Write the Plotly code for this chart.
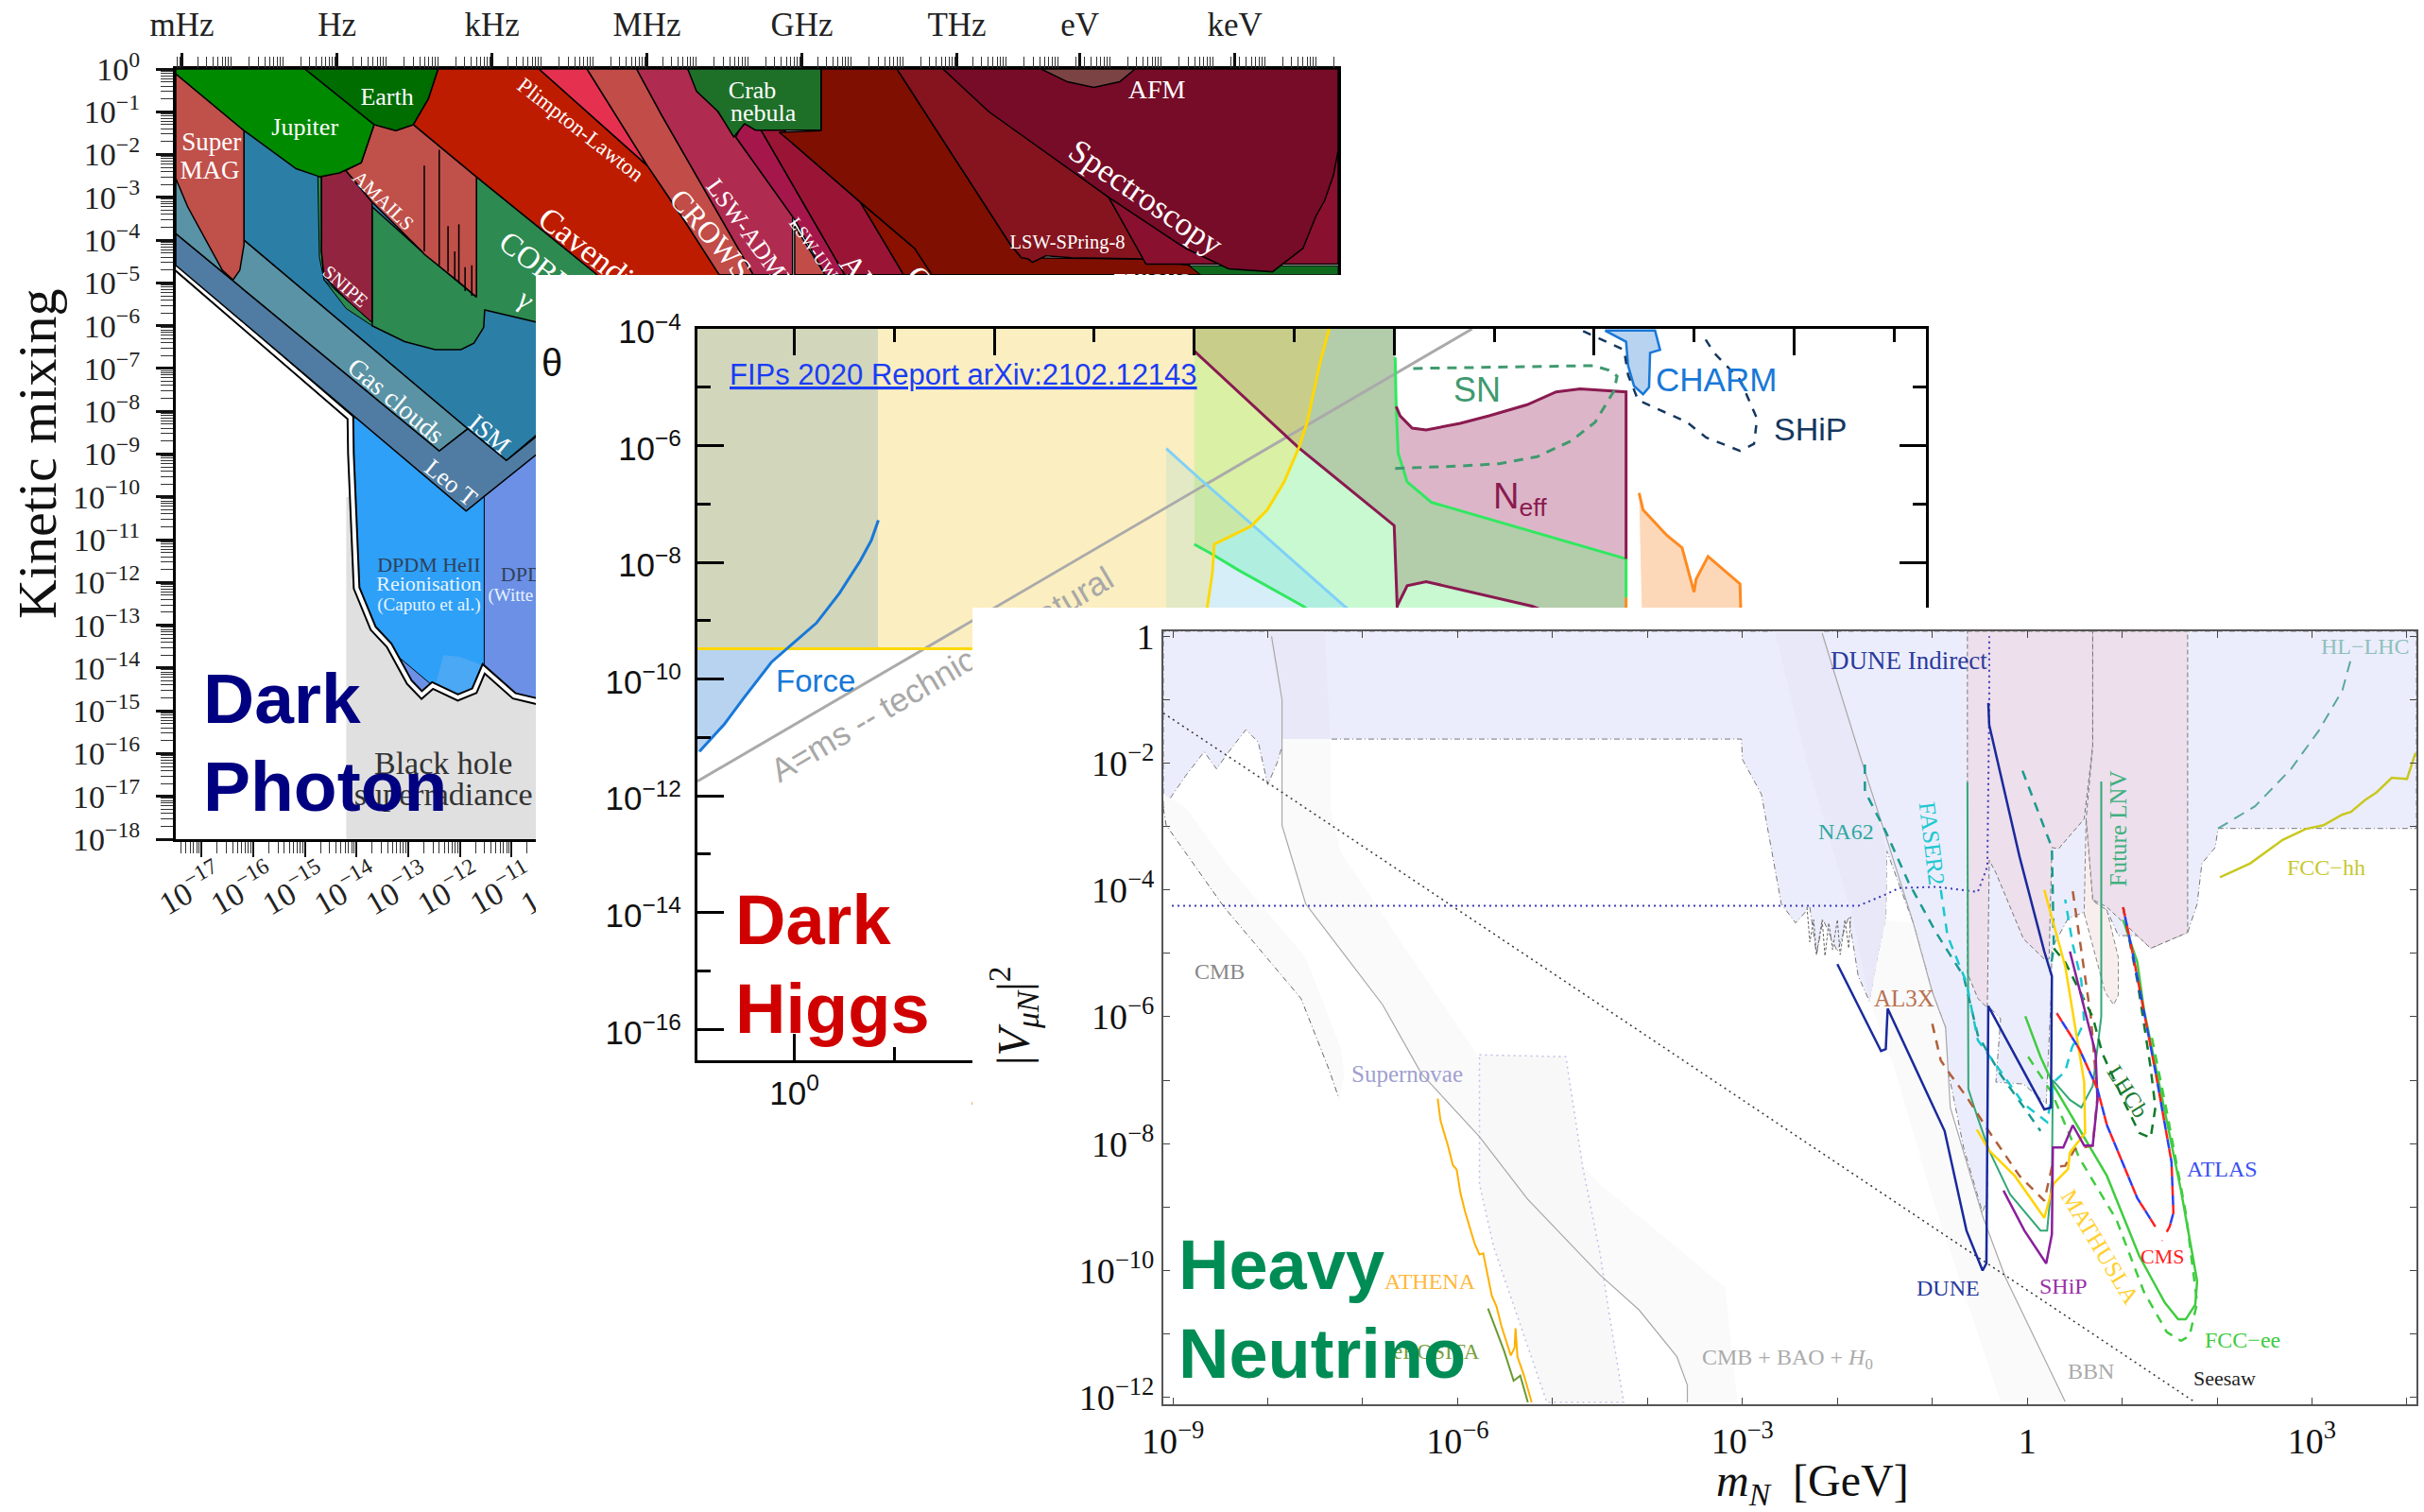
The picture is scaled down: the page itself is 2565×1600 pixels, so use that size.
import numpy as np
import plotly.graph_objects as go

W, H = 2565, 1600
SERIF = "Liberation Serif"
SANS = "Liberation Sans"

# ---------- all polygon / curve vertices are (log10 x, log10 y) ----------
# Panel 1: dark photon
grey_superrad = [(-14.2,-18),(-9,-18),(-9,-10),(-14.2,-10)]
dp_boundary = [(-17.5,-4.63),(-14.12,-8.15),(-14.11,-8.98),(-14.07,-10),(-14.0,-12.13),(-13.68,-13.07),(-13.37,-13.47),(-12.98,-14.33),(-12.74,-14.63),(-12.53,-14.41),(-12.04,-14.69),(-11.72,-14.53),(-11.54,-14.02),(-10.95,-14.65),(-10.53,-14.77),(-10,-15),(-9,-15)]
witte = [(-14.12,-8.15),(-9,-8.15),(-9,-15),(-10,-15),(-10.53,-14.77),(-10.95,-14.65),(-11.54,-14.02),(-11.72,-14.53),(-12.04,-14.69),(-12.53,-14.41),(-12.74,-14.63),(-12.98,-14.33),(-13.37,-13.47),(-13.68,-13.07),(-14.0,-12.13),(-14.07,-10),(-14.11,-8.98)]
heii = [(-14.12,-8.15),(-11.53,-8.15),(-11.53,-14.02),(-11.72,-14.53),(-12.04,-14.69),(-12.53,-14.41),(-12.57,-14.37),(-13.15,-13.78),(-13.37,-13.47),(-13.68,-13.07),(-14.0,-12.13),(-14.07,-10),(-14.11,-8.98)]
heii_patch = [(-12.46,-14.33),(-12.32,-13.7),(-12.0,-13.74),(-11.55,-13.94),(-11.72,-14.49),(-12.04,-14.66)]
teal = [(-16.18,-1.44),(-14.7,-2.5),(-9,-2.5),(-9,-7),(-11.1,-9.15),(-11.85,-8.41),(-16.18,-4.0)]
gas_clouds = [(-17.5,-2.6),(-16.18,-4.0),(-11.85,-8.41),(-12.4,-8.93),(-17.5,-3.85)]
leo_t = [(-17.5,-3.85),(-12.4,-8.93),(-11.85,-8.41),(-11.1,-9.15),(-9.5,-7.6),(-9,-7),(-9,-8.5),(-10.49,-8.98),(-11.88,-10.33),(-17.5,-4.59)]
cobe = [(-13.7,-3.22),(-12.74,-4.26),(-11.68,-5.33),(-11.68,-2.52),(-9.37,-4.78),(-8.5,-5.8),(-9,-6.2),(-10.47,-5.93),(-11.52,-5.63),(-11.54,-6.04),(-11.73,-6.41),(-11.98,-6.56),(-12.48,-6.56),(-13.07,-6.37),(-13.7,-6.0)]
strip = [(-14.75,-2.52),(-14.68,-2.52),(-14.68,-4.26),(-14.63,-4.93),(-14.72,-4.4)]
snipe = [(-14.68,-2.52),(-14.21,-2.37),(-13.7,-3.11),(-13.7,-5.93),(-14.16,-5.44),(-14.63,-4.85),(-14.68,-4.26)]
sliver = [(-14.63,-4.93),(-14.2,-5.4),(-13.7,-5.93),(-13.7,-6.0),(-14.2,-5.6)]
amails = [(-14.21,-2.37),(-13.91,-2.19),(-13.66,-1.3),(-13.24,-1.44),(-12.9,-1.3),(-11.68,-2.52),(-11.68,-5.33),(-12.0,-5.0),(-12.69,-4.33),(-12.74,-4.26),(-13.7,-3.11)]
supermag = [(-17.5,-0.11),(-16.18,-1.44),(-16.18,-4.11),(-16.26,-4.7),(-16.39,-4.93),(-16.6,-4.7),(-17.27,-3.22),(-17.5,-2.56)]
jupiter = [(-17.5,0),(-15,0),(-13.66,-1.3),(-13.91,-2.19),(-14.33,-2.43),(-14.71,-2.52),(-15.17,-2.33),(-16.18,-1.44),(-17.5,-0.11)]
earth = [(-15,0),(-12.42,0),(-12.61,-0.7),(-12.9,-1.3),(-13.24,-1.44),(-13.66,-1.3)]
cavendish = [(-12.42,0),(-10.47,0),(-8.37,-2.26),(-7.71,-3.44),(-6.98,-4.81),(-6.98,-6),(-8.4,-6),(-9.37,-4.78),(-11.68,-2.52),(-12.9,-1.3),(-12.61,-0.7)]
plimpton = [(-10.47,0),(-9.54,0),(-8.37,-2.26)]
crows = [(-9.54,0),(-8.58,0),(-8.1,-1.07),(-6.32,-4.81),(-6.98,-4.81),(-7.71,-3.44),(-8.37,-2.26)]
admx = [(-8.58,0),(-7.59,0),(-6.66,-1.59),(-5.56,-3.44),(-5.56,-4.81),(-6.32,-4.81),(-8.1,-1.07)]
rust_tri = [(-5.52,-3.67),(-5.52,-4.81),(-4.93,-4.81)]
uwa = [(-6.66,-1.59),(-6.49,-1.2),(-6.28,-1.2),(-4.55,-4.81),(-4.93,-4.81),(-5.52,-3.52)]
alps = [(-6.28,-1.2),(-5.82,-1.2),(-5.56,-1.74),(-4.25,-3.11),(-3.41,-4.81),(-4.55,-4.81)]
red_tri = [(-4.25,-3.11),(-3.2,-4.19),(-2.86,-4.81),(-3.41,-4.81)]
dark_red = [(-5.01,0),(-3.54,0),(-1.34,-4.11),(-1.13,-4.41),(1.2,-4.44),(2.12,-4.59),(2.34,-4.81),(-2.86,-4.81),(-3.2,-4.19),(-4.25,-3.11),(-5.56,-1.74),(-5.82,-1.48),(-5.01,-1.44)]
spring8 = [(-3.54,0),(-2.65,0),(0.56,-3.0),(1.24,-4.44),(-0.16,-4.41),(-0.66,-4.37),(-0.92,-4.52),(-1,-4.44),(-1.13,-4.41),(-1.34,-4.11)]
crimson = [(0.56,-3.0),(1.28,-4.56),(5.0,-4.56),(5.0,-1.93)]
green_br = [(2.12,-4.6),(5.0,-4.6),(5.0,-4.81),(2.34,-4.81)]
spectro = [(-2.65,0),(5.0,0),(5.0,-1.9),(4.91,-2.48),(4.74,-3.07),(4.57,-3.44),(4.32,-4.19),(3.73,-4.74),(2.88,-4.67),(2.04,-4.19),(0.56,-3.0),(-1.76,-1.0)]
afm = [(-0.75,0),(1.07,0),(0.77,-0.3),(0.27,-0.43),(-0.24,-0.3)]
crab = [(-7.59,0),(-5.01,0),(-5.01,-1.43),(-5.82,-1.44),(-6.28,-1.43),(-6.49,-1.28),(-6.7,-1.59),(-7.0,-1.0),(-7.42,-0.52)]
spikes_x = [-12.69,-12.69,None,-12.4,-12.4,None,-12.23,-12.23,None,-12.1,-12.1,None,-12.02,-12.02,None,-11.9,-11.9,None,-11.77,-11.77]
spikes_y = [-2.26,-4.26,None,-1.89,-4.59,None,-3.67,-4.74,None,-4.26,-4.93,None,-3.63,-5.0,None,-4.63,-5.19,None,-4.59,-5.3]

p1_x_exps = list(range(-17, 6))
p1_y_exps = list(range(-18, 1))
freq_names = ["mHz","Hz","kHz","MHz","GHz","THz","eV","keV"]
freq_pos = [-17.38,-14.38,-11.38,-8.38,-5.38,-2.38,0.0,3.0]

p1_labels = [
 ("Super",-16.81,-1.63,0,27,"white"),("MAG",-16.84,-2.3,0,27,"white"),("Jupiter",-15.0,-1.3,0,26,"white"),
 ("Earth",-13.41,-0.59,0,26,"white"),("Plimpton-Lawton",-9.63,-1.37,38,23,"white"),("AMAILS",-13.46,-3.04,44,21,"white"),
 ("SNIPE",-14.19,-5.04,41,20,"white"),("Gas clouds",-13.2,-7.7,40,28,"white"),("ISM",-11.39,-8.48,40,27,"white"),
 ("Leo T",-12.14,-9.62,39,26,"white"),("Cavendish",-9.29,-4.33,38,35,"white"),("COBE/FIRAS",-9.74,-5.17,38,33,"white"),
 ("γ",-10.68,-5.33,38,30,"white"),("CROWS",-7.1,-3.81,49,32,"white"),("LSW-ADMX",-6.32,-3.86,54,26,"white"),
 ("LSW-UWA",-5.06,-4.27,55,18.5,"white"),("ALPS",-4.01,-5.06,52,33,"white"),("CAST",-2.7,-5.37,52,33,"white"),
 ("TEXONO",1.41,-4.9,0,20,"white"),("AFM",1.49,-0.41,0,28,"white"),("Spectroscopy",1.32,-2.93,34.5,35,"white"),
 ("LSW-SPring-8",-0.24,-4.0,0,20.5,"white"),("Crab",-6.34,-0.43,0,26,"white"),("nebula",-6.13,-0.95,0,26,"white"),
 ("DPDM HeII",-12.6,-11.54,0,22,"#30405a"),("Reionisation",-12.6,-11.99,0,22,"#e8f4ff"),("(Caputo et al.)",-12.6,-12.48,0,19,"#e8f4ff"),
 ("DPDM HeII",-10.21,-11.75,0,22,"#30405a"),("(Witte et al.)",-10.58,-12.26,0,19,"#e8f4ff"),
 ("Black hole",-12.32,-16.13,0,34,"#333333"),("superradiance",-12.32,-16.87,0,34,"#333333"),
 ("Dark photon mass [eV]",-9.3,-20.45,0,60,"#111111"),
]

# Panel 2: dark Higgs
hig_yellow_curve = [(5.35,-4.0),(5.26,-4.57),(5.13,-5.6),(5.05,-6.02),(4.90,-6.62),(4.73,-7.10),(4.57,-7.38),(4.20,-7.69),(4.18,-8.19),(4.13,-8.77),(4.05,-9.48)]
hig_yellow = [(-0.97,-4)] + hig_yellow_curve + [(-0.97,-9.48)]
hig_beam = [(-0.97,-4),(0.836,-4),(0.836,-9.48),(-0.97,-9.48)]
force_line = [(-0.95,-11.24),(-0.70,-10.77),(-0.51,-10.33),(-0.23,-9.71),(-0.05,-9.44),(0.22,-9.04),(0.45,-8.53),(0.66,-7.97),(0.77,-7.62),(0.84,-7.28)]
force_fill = [(-0.97,-9.48),(-0.06,-9.48),(-0.23,-9.71),(-0.51,-10.33),(-0.7,-10.77),(-0.97,-11.27)]
pale_band = [(3.72,-6.05),(4.0,-6.48),(4.0,-9.5),(3.72,-9.5)]
pale_right = [(4.0,-7.69),(4.17,-7.87),(4.13,-8.77),(4.05,-9.5),(4.0,-9.5)]
lime_yellow = [(4.0,-4.38),(5.04,-6.03),(4.90,-6.62),(4.73,-7.10),(4.59,-7.37),(4.0,-6.48)]
lime_green = [(4.0,-6.48),(4.59,-7.37),(4.2,-7.69),(4.17,-7.87),(4.0,-7.69)]
olive = [(4.0,-4),(5.35,-4),(5.26,-4.57),(5.13,-5.6),(5.05,-6.02),(5.04,-6.03),(4.0,-4.38)]
sage = [(5.35,-4),(6.01,-4),(6.01,-4.49),(6.02,-5.33),(6.04,-6.13),(6.13,-6.62),(6.37,-6.97),(8.32,-7.94),(8.32,-9.0),(7.38,-9.0),(7.38,-8.75),(6.32,-8.33),(6.13,-8.4),(6.03,-8.75),(6.0,-7.37),(5.04,-6.03),(5.05,-6.02),(5.13,-5.6),(5.26,-4.57)]
mint = [(5.04,-6.03),(6.0,-7.37),(6.03,-9.0),(5.7,-9.0),(4.59,-7.37),(4.73,-7.10),(4.90,-6.62),(5.05,-6.02)]
mint_low = [(6.03,-9.2),(6.03,-8.75),(6.13,-8.4),(6.32,-8.33),(7.38,-8.75),(7.9,-9.2)]
teal_band = [(4.2,-7.69),(4.59,-7.37),(5.7,-9.0),(5.3,-9.0),(4.18,-7.86)]
sky = [(4.18,-7.86),(5.3,-9.0),(4.1,-9.0)]
neff_top = [(6.02,-5.33),(6.06,-5.49),(6.18,-5.7),(6.32,-5.73),(6.66,-5.62),(6.95,-5.49),(7.33,-5.3),(7.62,-5.08),(7.86,-5.03),(8.32,-5.08),(8.32,-7.94)]
neff_fill = [(6.02,-5.33),(6.06,-5.49),(6.18,-5.7),(6.32,-5.73),(6.66,-5.62),(6.95,-5.49),(7.33,-5.3),(7.62,-5.08),(7.86,-5.03),(8.32,-5.08),(8.32,-7.94),(6.37,-6.97),(6.13,-6.62),(6.04,-6.13)]
neff_diag = [(4.0,-4.38),(5.04,-6.03),(6.0,-7.37),(6.03,-8.75),(6.05,-9.2)]
neff_low = [(6.03,-9.0),(6.03,-8.75),(6.13,-8.4),(6.32,-8.33),(7.38,-8.75),(7.9,-9.1)]
lime_line = [(6.01,-4.49),(6.02,-5.33),(6.04,-6.13),(6.13,-6.62),(6.37,-6.97),(8.32,-7.94),(8.32,-8.6)]
lime_line2 = [(4.0,-7.69),(4.18,-7.86),(4.44,-8.13),(4.78,-8.45),(5.09,-8.75),(5.3,-9.0)]
sky_line = [(3.72,-6.05),(4.056,-6.57),(4.59,-7.37),(5.5,-8.75),(5.7,-9.0)]
natural_line = [(-0.97,-11.75),(6.78,-4.0)]
sn_dash = [(6.01,-6.39),(6.66,-6.35),(7.05,-6.31),(7.43,-6.19),(7.77,-5.92),(8.01,-5.6),(8.2,-5.06),(8.23,-4.81),(8.15,-4.71),(7.99,-4.63),(6.13,-4.68)]
charm = [(8.11,-4.03),(8.32,-4.22),(8.34,-4.63),(8.4,-4.98),(8.49,-5.12),(8.55,-5.0),(8.56,-4.41),(8.66,-4.36),(8.61,-4.03)]
ship_dash = [(7.89,-4.04),(8.3,-4.36),(8.34,-4.79),(8.44,-5.22),(8.93,-5.6),(9.12,-5.86),(9.46,-6.09),(9.6,-5.97),(9.63,-5.54),(9.46,-4.87),(9.2,-4.41),(9.07,-4.06)]
orange_fill = [(8.45,-6.81),(8.49,-7.1),(8.73,-7.54),(8.88,-7.75),(9.0,-8.51),(9.02,-8.29),(9.14,-7.9),(9.46,-8.37),(9.47,-9.0),(8.48,-9.0)]
orange_tick = [(8.32,-8.6),(8.32,-9.0)]
yellow_hline = [(-0.97,-9.48),(4.05,-9.48)]
p2_y_exps = [-4,-6,-8,-10,-12,-14,-16]
p2_y_minor = [-5,-7,-9,-11,-13,-15]
p2_x_exps = [0,2,4,6,8,10]
p2_x_minor = [1,3,5,7,9,11]

# Panel 3: heavy neutrino
lav = [(-9.1,-2.71),(-8.87,-2.21),(-8.67,-1.82),(-8.54,-2.09),(-8.41,-1.82),(-8.23,-1.47),(-8.1,-1.67),(-8.0,-2.34),(-7.9,-1.99),(-7.83,-1.64),(-7.78,-1.84),(-7.7,-1.62),(-7.56,-1.87),(-7.5,-1.62),(-3.01,-1.62),(-3.0,-1.94),(-2.8,-2.49),(-2.59,-4.22),(-2.44,-4.52),(-2.29,-4.27),(-2.22,-5.02),(-2.15,-4.47),(-2.0,-4.97),(-1.88,-4.42),(-1.78,-5.36),(-1.66,-5.76),(-1.57,-5.02),(-1.49,-4.47),(-1.48,-3.38),(-1.2,-4.52),(-1.0,-5.61),(-0.86,-6.17),(-0.84,-6.8),(-0.67,-8.06),(-0.47,-9.09),(-0.42,-8.86),(-0.41,-5.83),(-0.28,-6.03),(-0.33,-7.03),(-0.04,-7.06),(0.2,-7.37),(0.25,-5.71),(0.26,-4.92),(0.43,-4.45),(0.6,-4.35),(0.69,-4.17),(0.84,-4.32),(0.96,-4.72),(1.16,-4.72),(1.3,-4.92),(1.69,-4.67),(1.79,-4.22),(1.84,-3.58),(1.98,-3.33),(2.01,-3.03),(4.1,-3.03),(4.1,0.08),(-9.1,0.08)]
jag = [(-2.32,-4.27),(-2.29,-4.82),(-2.25,-4.47),(-2.22,-5.02),(-2.16,-4.47),(-2.13,-5.04),(-2.09,-4.52),(-2.05,-4.94),(-2.0,-4.47),(-1.97,-5.02),(-1.92,-4.47),(-1.88,-4.92),(-1.86,-4.42)]
pink1 = [(-0.63,0.08),(0.69,0.08),(0.69,-1.74),(0.6,-2.88),(0.33,-3.35),(0.26,-3.33),(0.23,-5.09),(0.18,-5.09),(-0.04,-4.77),(-0.33,-3.73),(-0.4,-3.53),(-0.42,-5.86),(-0.52,-5.71),(-0.63,-5.31)]
pink2 = [(0.69,0.08),(1.69,0.08),(1.69,-4.67),(1.3,-4.92),(1.16,-4.72),(0.84,-4.27),(0.69,-4.15),(0.62,-2.88),(0.69,-1.74)]
pale_pink = [(0.6,-4.37),(0.82,-5.61),(0.91,-5.81),(0.96,-5.66),(0.96,-5.07),(0.84,-4.32),(0.69,-4.17),(0.62,-2.88)]
over1 = [(-8.0,0.08),(-7.4,0.08),(-7.34,-1.62),(-7.85,-1.62),(-7.85,-1.0)]
over2 = [(-2.66,0.08),(-2.16,0.08),(-1.76,-1.89),(-1.48,-3.38),(-1.49,-4.47),(-1.57,-5.02),(-1.66,-5.76),(-1.83,-4.47),(-2.32,-1.99)]
cmb_bao = [(-7.96,0),(-7.85,-1.0),(-7.85,-2.98),(-7.6,-4.22),(-6.79,-5.81),(-6.38,-6.9),(-5.77,-7.89),(-5.26,-8.88),(-4.5,-10.07),(-4.09,-10.62),(-3.69,-11.36),(-3.58,-11.81),(-3.58,-12.08)]
band1 = [(-7.85,-1.62),(-7.34,-1.62),(-7.34,-2.69),(-7.24,-3.38),(-6.53,-4.97),(-5.77,-6.65),(-4.5,-8.64),(-3.18,-10.27),(-3.14,-10.86),(-3.05,-12.08),(-3.58,-12.08),(-3.58,-11.81),(-3.69,-11.36),(-4.09,-10.62),(-4.5,-10.07),(-5.26,-8.88),(-5.77,-7.89),(-6.38,-6.9),(-6.79,-5.81),(-7.6,-4.22),(-7.85,-2.98)]
band2 = [(-9.1,-2.49),(-8.87,-2.69),(-8.41,-3.63),(-7.6,-5.07),(-7.24,-6.45),(-7.19,-6.9),(-7.25,-7.29),(-7.35,-6.85),(-7.65,-5.71),(-8.46,-4.27),(-9.07,-2.98)]
supernovae = [(-5.77,-6.6),(-4.86,-6.63),(-4.68,-8.39),(-4.5,-9.73),(-4.4,-10.72),(-4.25,-12.08),(-5.06,-12.08),(-5.36,-10.77),(-5.62,-9.63),(-5.77,-8.64)]
bbn_band = [(-1.49,-4.47),(-1.2,-4.52),(-1.0,-5.61),(-0.86,-6.17),(-0.81,-7.43),(-0.47,-9.14),(-0.23,-10.11),(0.40,-12.07),(-0.28,-12.07),(-1.0,-8.86),(-1.4,-6.8),(-1.66,-5.76),(-1.57,-5.02)]
bbn_line = [(-2.16,0.05),(-1.76,-1.89),(-1.44,-3.38),(-1.2,-4.52),(-1.0,-5.61),(-0.86,-6.17),(-0.81,-7.43),(-0.47,-9.14),(-0.23,-10.11),(0.40,-12.07)]
cmb_dd = [(-9.1,-2.71),(-9.07,-2.98),(-8.46,-4.27),(-7.65,-5.71),(-7.35,-6.85),(-7.25,-7.29)]
seesaw = [(-9.1,-1.21),(1.76,-12.07)]
dune_ind = [(-9.01,-4.25),(-1.78,-4.25),(-1.49,-4.07),(-1.35,-3.97),(-0.96,-3.95),(-0.52,-4.03),(-0.42,-3.63),(-0.4,-1.1),(-0.4,0)]
dune = [(-2,-5.17),(-1.54,-6.54),(-1.49,-6.51),(-1.47,-5.87),(-0.87,-7.8),(-0.64,-9.37),(-0.47,-10),(-0.43,-9.89),(-0.41,-5.83),(0.18,-7.46),(0.25,-7.43),(0.26,-5.36),(0.18,-4.97),(-0.08,-3.48),(-0.4,-1.4),(-0.41,-1.05)]
faser2 = [(-0.91,-4.0),(-0.84,-4.72),(-0.64,-5.46),(-0.52,-6.37),(-0.28,-6.86),(-0.04,-7.37),(0.21,-7.66),(0.28,-7.03),(0.40,-6.86),(0.47,-6.49),(0.6,-6.09),(0.57,-5.43),(0.48,-4.86),(0.40,-4.15)]
na62 = [(-1.71,-2.02),(-1.71,-2.44),(-1.49,-3.08),(-1.25,-3.88),(-0.96,-4.67),(-0.67,-5.36),(-0.52,-6.29),(-0.28,-6.91),(0.14,-7.8)]
na62b = [(-0.05,-2.12),(0.26,-3.33),(0.28,-4.9),(0.25,-5.2)]
lnv = [(-0.63,-2.3),(-0.62,-7.14),(-0.52,-7.6),(-0.4,-8.11),(-0.18,-8.8),(0.14,-9.37),(0.21,-9.37),(0.26,-8.57),(0.27,-7.0),(0.45,-7.31),(0.57,-7.43),(0.69,-7.09),(0.78,-6.0),(0.78,-2.29)]
ship3 = [(-0.25,-8.74),(-0.03,-9.37),(0.2,-9.89),(0.26,-9.43),(0.27,-8.06),(0.38,-8.06),(0.48,-7.71),(0.6,-8.03),(0.69,-8.03),(0.74,-7.31),(0.72,-6.57),(0.45,-4.97)]
mathusla = [(-0.53,-7.78),(-0.4,-8.11),(-0.13,-8.51),(0.18,-9.17),(0.28,-8.63),(0.43,-8.4),(0.45,-8.14),(0.61,-7.83),(0.6,-7.03),(0.4,-5.2),(0.18,-4.0)]
al3x = [(-1.0,-6.11),(-0.91,-6.69),(-0.81,-6.91),(-0.64,-7.26),(-0.42,-7.77),(-0.08,-8.51),(0.18,-8.9),(0.26,-8.37),(0.40,-8.35),(0.5,-8.09),(0.69,-8.03),(0.74,-7.26),(0.67,-6.0),(0.57,-4.97),(0.48,-4.02)]
lhcb = [(0.28,-4.92),(0.4,-5.14),(0.69,-6.0),(0.79,-6.57),(1.03,-7.37),(1.18,-7.83),(1.3,-7.91),(1.35,-7.43),(1.3,-6.8),(1.16,-5.43),(1.01,-4.27)]
atlas = [(1.01,-4.27),(1.13,-5.14),(1.35,-6.86),(1.52,-8.29),(1.54,-9.09),(1.5,-9.31),None,(1.35,-9.31),(1.16,-8.86),(0.84,-7.71),(0.74,-7.14),(0.55,-6.51),(0.31,-5.94)]
cms = [(1.01,-4.27),(1.13,-5.14),(1.35,-6.86),(1.52,-8.29),(1.54,-9.09),(1.5,-9.31),(1.42,-9.53),None,(1.35,-9.31),(1.16,-8.86),(0.84,-7.71),(0.74,-7.14),(0.55,-6.51),(0.31,-5.94)]
fcc_ee = [(-0.02,-5.99),(0.14,-6.63),(0.28,-7.09),(0.6,-7.89),(0.84,-8.51),(1.18,-9.77),(1.45,-10.51),(1.59,-10.77),(1.67,-10.77),(1.77,-10.54),(1.79,-10.17),(1.62,-8.74),(1.42,-7.26),(1.23,-5.89),(1.16,-5.14),(1.01,-4.47)]
fcc_ee2 = [(0.01,-6.63),(0.26,-7.2),(0.55,-8.23),(0.94,-9.2),(1.23,-10.34),(1.47,-10.97),(1.62,-11.11),(1.71,-11.03),(1.79,-10.51),(1.67,-9.09),(1.47,-7.49),(1.3,-6.23)]
hl_lhc = [(2.01,-3.03),(2.4,-2.68),(2.78,-2.09),(3.07,-1.49),(3.32,-0.85),(3.42,-0.3)]
fcc_hh = [(2.03,-3.8),(2.35,-3.58),(2.69,-3.21),(2.93,-3.04),(3.12,-2.98),(3.32,-2.81),(3.41,-2.77),(3.56,-2.58),(3.68,-2.46),(3.84,-2.23),(4.0,-2.25),(4.09,-1.84)]
athena = [(-6.21,-7.29),(-6.18,-7.64),(-6.1,-8.04),(-6.05,-8.34),(-6.01,-8.41),(-5.97,-8.78),(-5.92,-9.08),(-5.82,-9.58),(-5.77,-9.75),(-5.73,-9.73),(-5.64,-10.4),(-5.59,-10.57),(-5.54,-10.87),(-5.46,-11.22),(-5.44,-11.34),(-5.4,-11.22),(-5.39,-10.91),(-5.37,-11.36),(-5.3,-11.66),(-5.22,-12.08)]
erosita = [(-5.68,-10.6),(-5.51,-11.27),(-5.41,-11.74),(-5.34,-11.66),(-5.26,-12.08)]
p3_x_exps = list(range(-9, 5))
p3_x_lab = [-9,-6,-3,0,3]
p3_y_exps = list(range(-12, 1))
p3_y_lab = [-12,-10,-8,-6,-4,-2,0]
p3_labels = [
 ("DUNE Indirect",-1.25,-0.38,0,27,"#2a3a9c"),("HL−LHC",3.56,-0.16,0,24,"#8fc0bb"),("NA62",-1.91,-3.08,0,24,"#30a8a0"),
 ("FASER2",-1.0,-3.26,83,25,"#20c8d0"),("Future LNV",0.96,-3.03,-90,25,"#40b080"),("FCC−hh",3.15,-3.65,0,24,"#c8c830"),
 ("AL3X",-1.3,-5.71,0,25,"#b87050"),("CMB",-8.51,-5.29,0,24,"#888888"),("Supernovae",-6.53,-6.9,0,25,"#a0a0d0"),
 ("ATHENA",-6.29,-10.18,0,24,"#ffb83c"),("eROSITA",-6.22,-11.29,0,23,"#7aa040"),("CMB + BAO + <i>H</i><sub>0</sub>",-2.52,-11.4,0,24,"#aaaaaa"),
 ("BBN",0.67,-11.59,0,24,"#aaaaaa"),("Seesaw",2.08,-11.7,0,22,"#222222"),("FCC−ee",2.27,-11.1,0,24,"#40cc40"),
 ("ATLAS",2.05,-8.4,0,24,"#3a50f0"),("CMS",1.42,-9.78,0,22,"#ff2020"),("DUNE",-0.83,-10.27,0,24,"#2a3a9c"),
 ("SHiP",0.38,-10.24,0,24,"#9a30a8"),("MATHUSLA",0.77,-9.63,59,25,"#ffd030"),("LHCb",1.06,-7.17,58,24,"#1a7a30"),
]
p2_labels = [
 ("CHARM",9.22,-4.87,35,"#1878d8"),("SHiP",10.16,-5.71,34,"#15375f"),("SN",6.83,-5.05,36,"#3f9a6f"),
 ("N<sub>eff</sub>",7.26,-6.91,38,"#8a1a50"),("Force",0.21,-10.03,33,"#1878d8"),
]
cover_x = [0,1,1,0,0]
cover_y = [0,0,1,1,0]

# ---------- helpers ----------
fig = go.Figure()
def pw(v):
    return [None if a is None else 10.0**a for a in v]
def split(pts):
    xs = [None if p is None else p[0] for p in pts]
    ys = [None if p is None else p[1] for p in pts]
    return pw(xs), pw(ys)
def poly(pts, color, ax, line="#000000", lw=1.5, dash="solid"):
    x, y = split(list(pts) + [pts[0]])
    fig.add_trace(go.Scatter(x=x, y=y, mode="lines", fill="toself", fillcolor=color,
        line=dict(color=line if lw else color, width=lw, dash=dash), xaxis=ax[0], yaxis=ax[1],
        hoverinfo="skip", showlegend=False))
def curve(pts, color, ax, lw=2, dash="solid"):
    x, y = split(pts)
    fig.add_trace(go.Scatter(x=x, y=y, mode="lines", line=dict(color=color, width=lw, dash=dash),
        xaxis=ax[0], yaxis=ax[1], hoverinfo="skip", showlegend=False))
def exp_label(k):
    return "10<sup>" + (("−%d" % -k) if k < 0 else str(k)) + "</sup>"
def dx(l, r): return [l / W, r / W]
def dy(t, b): return [1 - b / H, 1 - t / H]
def decade_minor(exps):
    out = []
    for k in exps:
        for n in range(2, 10):
            out.append(10.0**k * n)
    return out

P1 = ("x", "y"); P1L = ("x2", "y2"); C2 = ("x3", "y3"); P2 = ("x4", "y4"); P2L = ("x5", "y5"); C3 = ("x6", "y6"); P3 = ("x7", "y7")

# ---------- panel 1 ----------
poly(grey_superrad, "#e0e0e0", P1, lw=0)
poly(witte, "#6b90e6", P1, lw=0)
poly(heii, "#2ea0f8", P1, lw=1)
poly(heii_patch, "#4aa8f5", P1, lw=0)
curve(dp_boundary, "#000000", P1, lw=8)
curve(dp_boundary, "#ffffff", P1, lw=4)
poly(teal, "#2b7ea6", P1)
poly(gas_clouds, "#5a93a6", P1)
poly(leo_t, "#507ca3", P1)
poly(cobe, "#2d8a50", P1)
poly(strip, "#2d8a50", P1, lw=1)
poly(snipe, "#93243f", P1)
poly(sliver, "#2d8a50", P1, lw=1)
poly(amails, "#c0504a", P1)
fig.add_trace(go.Scatter(x=pw(spikes_x), y=pw(spikes_y), mode="lines", line=dict(color="#000000", width=1.5), xaxis="x", yaxis="y", hoverinfo="skip", showlegend=False))
poly(supermag, "#c0504a", P1)
poly(jupiter, "#008a00", P1)
poly(earth, "#006d00", P1)
poly(cavendish, "#be1c00", P1)
poly(plimpton, "#e63050", P1)
poly(crows, "#c24c48", P1)
poly(admx, "#b02b50", P1)
poly(rust_tri, "#c24c48", P1)
poly(uwa, "#a5174a", P1)
poly(alps, "#9a1535", P1)
poly(red_tri, "#8a1000", P1)
poly(dark_red, "#7f0f00", P1)
poly(spring8, "#85141f", P1)
poly(crimson, "#8a1030", P1)
poly(green_br, "#0f6a1e", P1, lw=1)
poly(spectro, "#770c28", P1)
poly(afm, "#7b4343", P1)
poly(crab, "#1e7028", P1)
# subplot for labels of panel 1
fig.add_trace(go.Scatter(x=[-17.5, 5.0], y=[-18, 0], mode="lines", line=dict(width=0), xaxis="x2", yaxis="y2", hoverinfo="skip", showlegend=False))

shapes = []
def shape_label(text, lx, ly, angle, size, color, ax, family):
    shapes.append(dict(type="rect", xref=ax[0], yref=ax[1], x0=lx - 0.005, x1=lx + 0.005, y0=ly - 0.005, y1=ly + 0.005,
        line=dict(width=0), fillcolor="rgba(0,0,0,0)", layer="between",
        label=dict(text=text, textangle=angle, textposition="middle center", font=dict(size=size, color=color, family=family))))
for t, lx, ly, a, s, c in p1_labels:
    shape_label(t, lx, ly, a, s, c, P1L, SERIF)

# ---------- cover for panel 2 ----------
fig.add_trace(go.Scatter(x=cover_x, y=cover_y, mode="lines", fill="toself", fillcolor="#ffffff", line=dict(width=0, color="#ffffff"), xaxis="x3", yaxis="y3", hoverinfo="skip", showlegend=False))

# ---------- panel 2 ----------
poly(hig_yellow, "#fbeec0", P2, lw=0)
poly(hig_beam, "#d2d6bb", P2, lw=0)
poly(force_fill, "#b8d3f0", P2, lw=0)
poly(pale_band, "#e3e8c5", P2, lw=0)
poly(pale_right, "#e3e8c5", P2, lw=0)
poly(lime_yellow, "#d9f0a5", P2, lw=0)
poly(lime_green, "#c9e8a8", P2, lw=0)
poly(olive, "#c8ce8a", P2, lw=0)
poly(sage, "#b3ccaa", P2, lw=0)
poly(mint, "#c8f9d0", P2, lw=0)
poly(mint_low, "#c8f9d0", P2, lw=0)
poly(teal_band, "#b0efdf", P2, lw=0)
poly(sky, "#d5eef7", P2, lw=0)
poly(neff_fill, "#dcb6c8", P2, lw=0)
poly(charm, "#b8d3f0", P2, line="#1878d8", lw=2.5)
poly(orange_fill, "#fdd8b8", P2, lw=0)
curve(orange_fill[:9], "#ff8a20", P2, lw=3)
curve(orange_tick, "#ff8a20", P2, lw=3)
curve(natural_line, "#aaaaaa", P2, lw=3)
curve(sky_line, "#80d0f8", P2, lw=3)
curve(lime_line, "#30e860", P2, lw=3)
curve(lime_line2, "#30e860", P2, lw=3)
curve(neff_top, "#8a1a50", P2, lw=3)
curve(neff_diag, "#8a1a50", P2, lw=3)
curve(neff_low, "#8a1a50", P2, lw=3)
curve(hig_yellow_curve, "#ffd800", P2, lw=3)
curve(yellow_hline, "#ffd800", P2, lw=3)
curve(force_line, "#1878d8", P2, lw=3)
curve(sn_dash, "#3f9a6f", P2, lw=3, dash="10px,8px")
curve(ship_dash, "#15375f", P2, lw=2.5, dash="9px,9px")
fig.add_trace(go.Scatter(x=[-0.97, 11.32], y=[-16.5, -4], mode="lines", line=dict(width=0), xaxis="x5", yaxis="y5", hoverinfo="skip", showlegend=False))
shape_label("A=ms -- technically natural", 1.46, -9.87, -30.5, 35, "#a8a8a8", P2L, SANS)

# ---------- cover for panel 3 ----------
fig.add_trace(go.Scatter(x=cover_x, y=cover_y, mode="lines", fill="toself", fillcolor="#ffffff", line=dict(width=0, color="#ffffff"), xaxis="x6", yaxis="y6", hoverinfo="skip", showlegend=False))

# ---------- panel 3 ----------
poly(lav, "#ecedfc", P3, line="#777777", lw=1, dash="6px,3px,1px,3px")
curve(jag, "#666666", P3, lw=1, dash="3px,2px")
poly(pink1, "#eddfeb", P3, line="#777777", lw=1, dash="5px,3px")
poly(pink2, "#eddfeb", P3, line="#777777", lw=1, dash="5px,3px")
poly(pale_pink, "#f9eeee", P3, line="#888888", lw=1, dash="5px,3px")
poly(over1, "#e8e8f8", P3, lw=0)
poly(over2, "#e8e8f8", P3, lw=0)
poly(band1, "#fafafa", P3, lw=0)
poly(band2, "#fafafa", P3, lw=0)
poly(bbn_band, "#fafafa", P3, lw=0)
poly(supernovae, "#f8f8f8", P3, line="#c0c0e8", lw=1.5, dash="2px,4px")
curve(bbn_line, "#a8a8a8", P3, lw=1.2)
curve(cmb_bao, "#a8a8a8", P3, lw=1.2)
curve(cmb_dd, "#666666", P3, lw=1, dash="6px,3px,1px,3px")
curve(seesaw, "#333333", P3, lw=1.5, dash="2px,4px")
curve(dune_ind, "#3a3ab8", P3, lw=2, dash="2px,4px")
curve(hl_lhc, "#5aa8a0", P3, lw=2, dash="12px,8px")
curve(fcc_hh, "#c8c820", P3, lw=2.5)
curve(athena, "#ffb000", P3, lw=2)
curve(erosita, "#6a9a30", P3, lw=2)
curve(fcc_ee2, "#40cc40", P3, lw=2.5, dash="10px,8px")
curve(fcc_ee, "#40cc40", P3, lw=2.5)
curve(lnv, "#33a878", P3, lw=2)
curve(al3x, "#b0603a", P3, lw=2.5, dash="10px,8px")
curve(lhcb, "#0f7a2a", P3, lw=2.5, dash="10px,8px")
curve(na62, "#1a9a90", P3, lw=2.5, dash="10px,8px")
curve(na62b, "#1a9a90", P3, lw=2.5, dash="10px,8px")
curve(faser2, "#18c8d0", P3, lw=2.5, dash="10px,8px")
curve(mathusla, "#ffd400", P3, lw=2.5)
curve(ship3, "#8a1f9c", P3, lw=2.5)
curve(dune, "#1a2a9c", P3, lw=2.5)
curve(cms, "#ff2020", P3, lw=2.5, dash="10px,10px")
curve(atlas, "#2a40f0", P3, lw=2.5, dash="0px,10px,10px,0px")

# ---------- annotations ----------
ann = []
def paper_text(t, px, py, size, color, family, angle=0, xanchor="center"):
    ann.append(dict(text=t, xref="paper", yref="paper", x=px / W, y=1 - py / H, showarrow=False, xanchor=xanchor,
                    yanchor="middle", textangle=angle, font=dict(size=size, color=color, family=family)))
for t, lx, ly, s, c in p2_labels:
    ann.append(dict(text=t, xref="x4", yref="y4", x=lx, y=ly, showarrow=False, font=dict(size=s, color=c, family=SANS)))
for t, lx, ly, a, s, c in p3_labels:
    ann.append(dict(text=t, xref="x7", yref="y7", x=lx, y=ly, showarrow=False, textangle=a, font=dict(size=s, color=c, family=SERIF)))
ann.append(dict(text="FIPs 2020 Report arXiv:2102.12143", xref="x4", yref="y4", x=1.69, y=-4.79, showarrow=False,
                font=dict(size=31, color="#1a3cf5", family=SANS, lineposition="under")))
paper_text("θ", 584, 384, 40, "#111111", SANS)
paper_text("Kinetic mixing", 39, 480, 58, "#111111", SERIF, angle=-90)
paper_text("|<i>V<sub>μN</sub></i>|<sup>2</sup>", 1072, 1075, 48, "#111111", SERIF, angle=-90)
paper_text("<i>m<sub>N</sub></i>  [GeV]", 1918, 1570, 48, "#111111", SERIF)
paper_text("<b>Dark</b>", 213, 739, 75, "#000080", SANS, xanchor="left")
paper_text("<b>Photon</b>", 213, 832, 75, "#000080", SANS, xanchor="left")
paper_text("<b>Dark</b>", 776, 973, 74, "#d00000", SANS, xanchor="left")
paper_text("<b>Higgs</b>", 776, 1067, 74, "#d00000", SANS, xanchor="left")
paper_text("<b>Heavy</b>", 1245, 1338, 74, "#008c55", SANS, xanchor="left")
paper_text("<b>Neutrino</b>", 1245, 1432, 74, "#008c55", SANS, xanchor="left")

hidden = dict(visible=False, showgrid=False, zeroline=False, fixedrange=True)
layout = dict(
    width=W, height=H, margin=dict(l=0, r=0, t=0, b=0, autoexpand=False), paper_bgcolor="white", plot_bgcolor="rgba(0,0,0,0)",
    showlegend=False, shapes=shapes, annotations=ann,
    # panel 1
    xaxis=dict(type="log", range=[-17.5, 5.0], domain=dx(186, 1416), anchor="y", side="bottom", showgrid=False, zeroline=False,
               tickmode="array", tickvals=[10.0**k for k in p1_x_exps], ticktext=[exp_label(k) for k in p1_x_exps],
               ticks="outside", ticklen=16, tickwidth=2, tickcolor="#111", tickangle=-30, ticklabelstandoff=-12, ticklabelshift=17,
               tickfont=dict(size=34, family=SERIF, color="#222"), showline=True, linecolor="#000", linewidth=3, mirror=True,
               minor=dict(tickmode="array", tickvals=decade_minor(range(-18, 5)), ticks="outside", ticklen=12, tickwidth=1, tickcolor="#333")),
    yaxis=dict(type="log", range=[-18, 0], domain=dy(73, 888), anchor="x", showgrid=False, zeroline=False,
               tickmode="array", tickvals=[10.0**k for k in p1_y_exps], ticktext=[exp_label(k) for k in p1_y_exps],
               ticks="outside", ticklen=18, tickwidth=3, tickcolor="#111", ticklabelstandoff=10,
               tickfont=dict(size=34, family=SERIF, color="#222"), showline=True, linecolor="#000", linewidth=3, mirror=True,
               minor=dict(tickmode="array", tickvals=decade_minor(range(-18, 0)), ticks="outside", ticklen=13, tickwidth=1, tickcolor="#333")),
    xaxis2=dict(range=[-17.5, 5.0], domain=dx(186, 1416), anchor="y2", side="top", showgrid=False, zeroline=False,
                tickmode="array", tickvals=freq_pos, ticktext=freq_names, ticks="outside", ticklen=16, tickwidth=2.5, tickcolor="#111",
                ticklabelstandoff=4, tickfont=dict(size=35, family=SERIF, color="#222"),
                minor=dict(tickmode="array", tickvals=[round(-14.38 + k + np.log10(n), 3) for k in range(-4, 20) for n in range(2, 10)],
                           ticks="outside", ticklen=12, tickwidth=1, tickcolor="#333")),
    yaxis2=dict(range=[-18, 0], domain=dy(73, 888), anchor="x2", **hidden),
    # cover 2
    xaxis3=dict(range=[0, 1], domain=dx(567, 2100), anchor="y3", **hidden),
    yaxis3=dict(range=[0, 1], domain=dy(291, 1600), anchor="x3", **hidden),
    # panel 2
    xaxis4=dict(type="log", range=[-0.97, 11.32], domain=dx(738, 2038), anchor="y4", showgrid=False, zeroline=False,
                tickmode="array", tickvals=[10.0**k for k in p2_x_exps], ticktext=[exp_label(k) for k in p2_x_exps],
                ticks="inside", ticklen=28, tickwidth=3, tickcolor="#000", ticklabelstandoff=2,
                tickfont=dict(size=35, family=SANS, color="#111"), showline=True, linecolor="#000", linewidth=3, mirror="ticks",
                minor=dict(tickmode="array", tickvals=[10.0**k for k in p2_x_minor], ticks="inside", ticklen=14, tickwidth=3, tickcolor="#000")),
    yaxis4=dict(type="log", range=[-16.53, -4], domain=dy(348, 1122), anchor="x4", showgrid=False, zeroline=False,
                tickmode="array", tickvals=[10.0**k for k in p2_y_exps], ticktext=[exp_label(k) for k in p2_y_exps],
                ticks="inside", ticklen=28, tickwidth=3, tickcolor="#000", ticklabelstandoff=7, ticklabelshift=3,
                tickfont=dict(size=35, family=SANS, color="#111"), showline=True, linecolor="#000", linewidth=3, mirror="ticks",
                minor=dict(tickmode="array", tickvals=[10.0**k for k in p2_y_minor], ticks="inside", ticklen=14, tickwidth=3, tickcolor="#000")),
    xaxis5=dict(range=[-0.97, 11.32], domain=dx(738, 2038), anchor="y5", **hidden),
    yaxis5=dict(range=[-16.53, -4], domain=dy(348, 1122), anchor="x5", **hidden),
    # cover 3
    xaxis6=dict(range=[0, 1], domain=dx(1029, 2565), anchor="y6", **hidden),
    yaxis6=dict(range=[0, 1], domain=dy(643, 1600), anchor="x6", **hidden),
    # panel 3
    xaxis7=dict(type="log", range=[-9.10, 4.10], domain=dx(1231, 2557), anchor="y7", showgrid=False, zeroline=False,
                tickmode="array", tickvals=[10.0**k for k in p3_x_exps],
                ticktext=[("1" if k == 0 else exp_label(k)) if k in p3_x_lab else "" for k in p3_x_exps],
                ticks="inside", ticklen=7, tickwidth=1.2, tickcolor="#444", ticklabelstandoff=4,
                tickfont=dict(size=38, family=SERIF, color="#111"), showline=True, linecolor="#555", linewidth=2, mirror="ticks"),
    yaxis7=dict(type="log", range=[-12.11, 0.08], domain=dy(668, 1486), anchor="x7", showgrid=False, zeroline=False,
                tickmode="array", tickvals=[10.0**k for k in p3_y_exps],
                ticktext=[("1" if k == 0 else exp_label(k)) if k in p3_y_lab else "" for k in p3_y_exps],
                ticks="inside", ticklen=7, tickwidth=1.2, tickcolor="#444",
                tickfont=dict(size=38, family=SERIF, color="#111"), showline=True, linecolor="#555", linewidth=2, mirror="ticks"),
)
fig.update_layout(**layout)
fig.write_html("out.html", config=dict(displayModeBar=False),
               post_script="document.body.style.margin='0';document.body.style.overflow='hidden';")
